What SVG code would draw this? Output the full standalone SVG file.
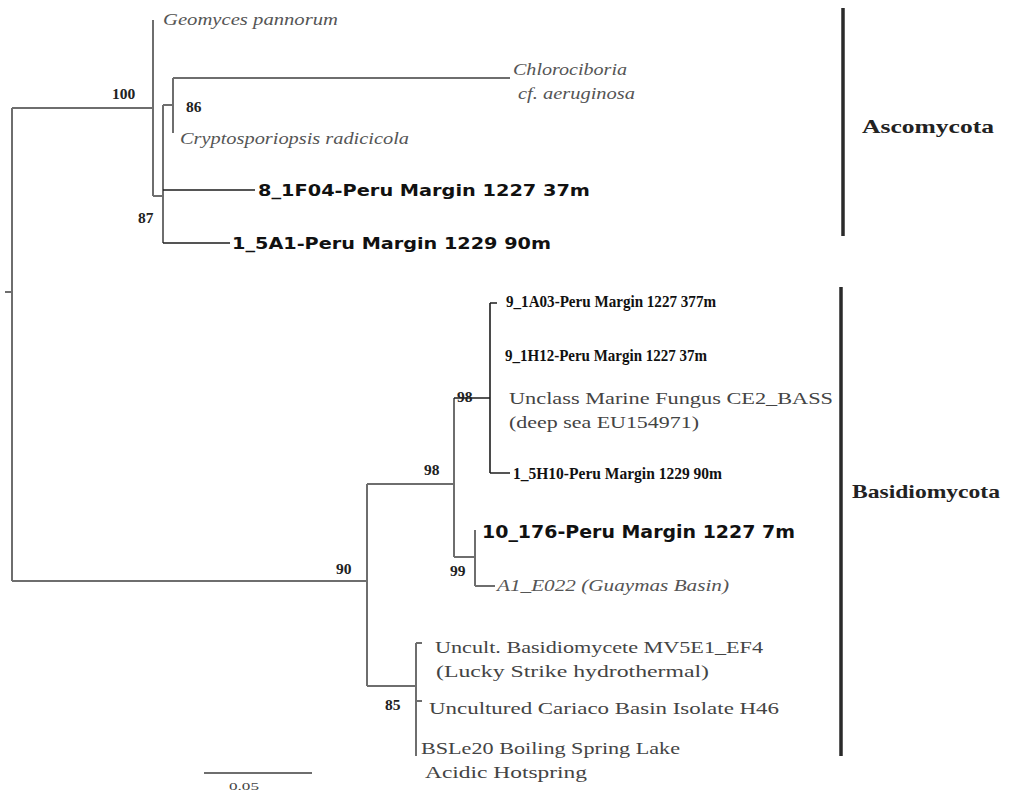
<svg xmlns="http://www.w3.org/2000/svg" width="1021" height="798" viewBox="0 0 1021 798">
<style>
.g{stroke:#6e6e6e;stroke-width:2;fill:none}
.k{stroke:#1e1e1e;stroke-width:1.6;fill:none}
.bar{stroke:#2a2a2a;stroke-width:3.5}
.it{font-family:"Liberation Serif",serif;font-style:italic;font-size:16px;fill:#555}
.rs{font-family:"Liberation Serif",serif;font-size:16px;fill:#444}
.bs{font-family:"DejaVu Sans",sans-serif;font-weight:bold;font-size:15px;fill:#111}
.bf{font-family:"Liberation Serif",serif;font-weight:bold;font-size:16px;fill:#111}
.nd{font-family:"Liberation Serif",serif;font-weight:bold;font-size:15.5px;fill:#222}
.cl{font-family:"Liberation Serif",serif;font-weight:bold;font-size:19px;fill:#222}
</style>
<rect width="1021" height="798" fill="#fff"/>
<g id="connectors">
<path class="g" d="M5 292H12M12 108V581M12 108H153M153 20V196M153 196H163M163 105V243M163 105H173M173 78V133M173 78H510"/>
<path class="k" d="M163 190H255M163 243H230"/>
<path class="g" d="M12 581H367M367 484V686M367 484H454M454 398V557M454 557H475M475 530V586M475 586H495"/>
<path class="k" d="M454 398H490M490 303V473M490 303H497M490 473H510"/>
<path class="g" d="M367 686H416M416 643V756M416 643H422M416 701H422"/>
<path class="g" d="M204 773H312"/>
</g>
<g id="clade-bars">
<line class="bar" x1="843" y1="8" x2="843" y2="236"/>
<line class="bar" x1="841" y1="287" x2="841" y2="756"/>
<text class="cl" x="862" y="133" textLength="132" lengthAdjust="spacingAndGlyphs">Ascomycota</text>
<text class="cl" x="852" y="498" textLength="148" lengthAdjust="spacingAndGlyphs">Basidiomycota</text>
</g>
<g id="leaf-geomyces"><text class="it" x="163" y="25" textLength="175" lengthAdjust="spacingAndGlyphs">Geomyces pannorum</text></g>
<g id="leaf-chlorociboria"><text class="it" x="513" y="75" textLength="114" lengthAdjust="spacingAndGlyphs">Chlorociboria</text><text class="it" x="518" y="99" textLength="117" lengthAdjust="spacingAndGlyphs">cf. aeruginosa</text></g>
<g id="leaf-cryptosporiopsis"><text class="it" x="180" y="144" textLength="229" lengthAdjust="spacingAndGlyphs">Cryptosporiopsis radicicola</text></g>
<g id="leaf-8_1F04"><text class="bs" x="258" y="196" textLength="332" lengthAdjust="spacingAndGlyphs">8_1F04-Peru Margin 1227 37m</text></g>
<g id="leaf-1_5A1"><text class="bs" x="232" y="249" textLength="319" lengthAdjust="spacingAndGlyphs">1_5A1-Peru Margin 1229 90m</text></g>
<g id="leaf-9_1A03"><text class="bf" x="506" y="307" textLength="210" lengthAdjust="spacingAndGlyphs">9_1A03-Peru Margin 1227 377m</text></g>
<g id="leaf-9_1H12"><text class="bf" x="505" y="361" textLength="202" lengthAdjust="spacingAndGlyphs">9_1H12-Peru Margin 1227 37m</text></g>
<g id="leaf-ce2"><text class="rs" x="509" y="404" textLength="324" lengthAdjust="spacingAndGlyphs">Unclass Marine Fungus CE2_BASS</text><text class="rs" x="509" y="428" textLength="190" lengthAdjust="spacingAndGlyphs">(deep sea EU154971)</text></g>
<g id="leaf-1_5H10"><text class="bf" x="513" y="479" textLength="209" lengthAdjust="spacingAndGlyphs">1_5H10-Peru Margin 1229 90m</text></g>
<g id="leaf-10_176"><text class="bs" x="482" y="538" style="font-size:17px" textLength="313" lengthAdjust="spacingAndGlyphs">10_176-Peru Margin 1227 7m</text></g>
<g id="leaf-a1"><text class="it" x="497" y="591" textLength="232" lengthAdjust="spacingAndGlyphs">A1_E022 (Guaymas Basin)</text></g>
<g id="leaf-mv5e1"><text class="rs" x="435" y="653" textLength="328" lengthAdjust="spacingAndGlyphs">Uncult. Basidiomycete MV5E1_EF4</text><text class="rs" x="436" y="677" textLength="273" lengthAdjust="spacingAndGlyphs">(Lucky Strike hydrothermal)</text></g>
<g id="leaf-cariaco"><text class="rs" x="429" y="714" textLength="350" lengthAdjust="spacingAndGlyphs">Uncultured Cariaco Basin Isolate H46</text></g>
<g id="leaf-bsle20"><text class="rs" x="421" y="754" textLength="259" lengthAdjust="spacingAndGlyphs">BSLe20 Boiling Spring Lake</text><text class="rs" x="425" y="778" textLength="162" lengthAdjust="spacingAndGlyphs">Acidic Hotspring</text></g>
<g id="bootstrap">
<text class="nd" x="112" y="99">100</text>
<text class="nd" x="186" y="112">86</text>
<text class="nd" x="138" y="223">87</text>
<text class="nd" x="457" y="402">98</text>
<text class="nd" x="424" y="475">98</text>
<text class="nd" x="336" y="574">90</text>
<text class="nd" x="450" y="576">99</text>
<text class="nd" x="385" y="710">85</text>
</g>
<g id="scale"><text class="rs" x="229" y="790" style="font-size:11px" textLength="30" lengthAdjust="spacingAndGlyphs">0.05</text></g>
</svg>
